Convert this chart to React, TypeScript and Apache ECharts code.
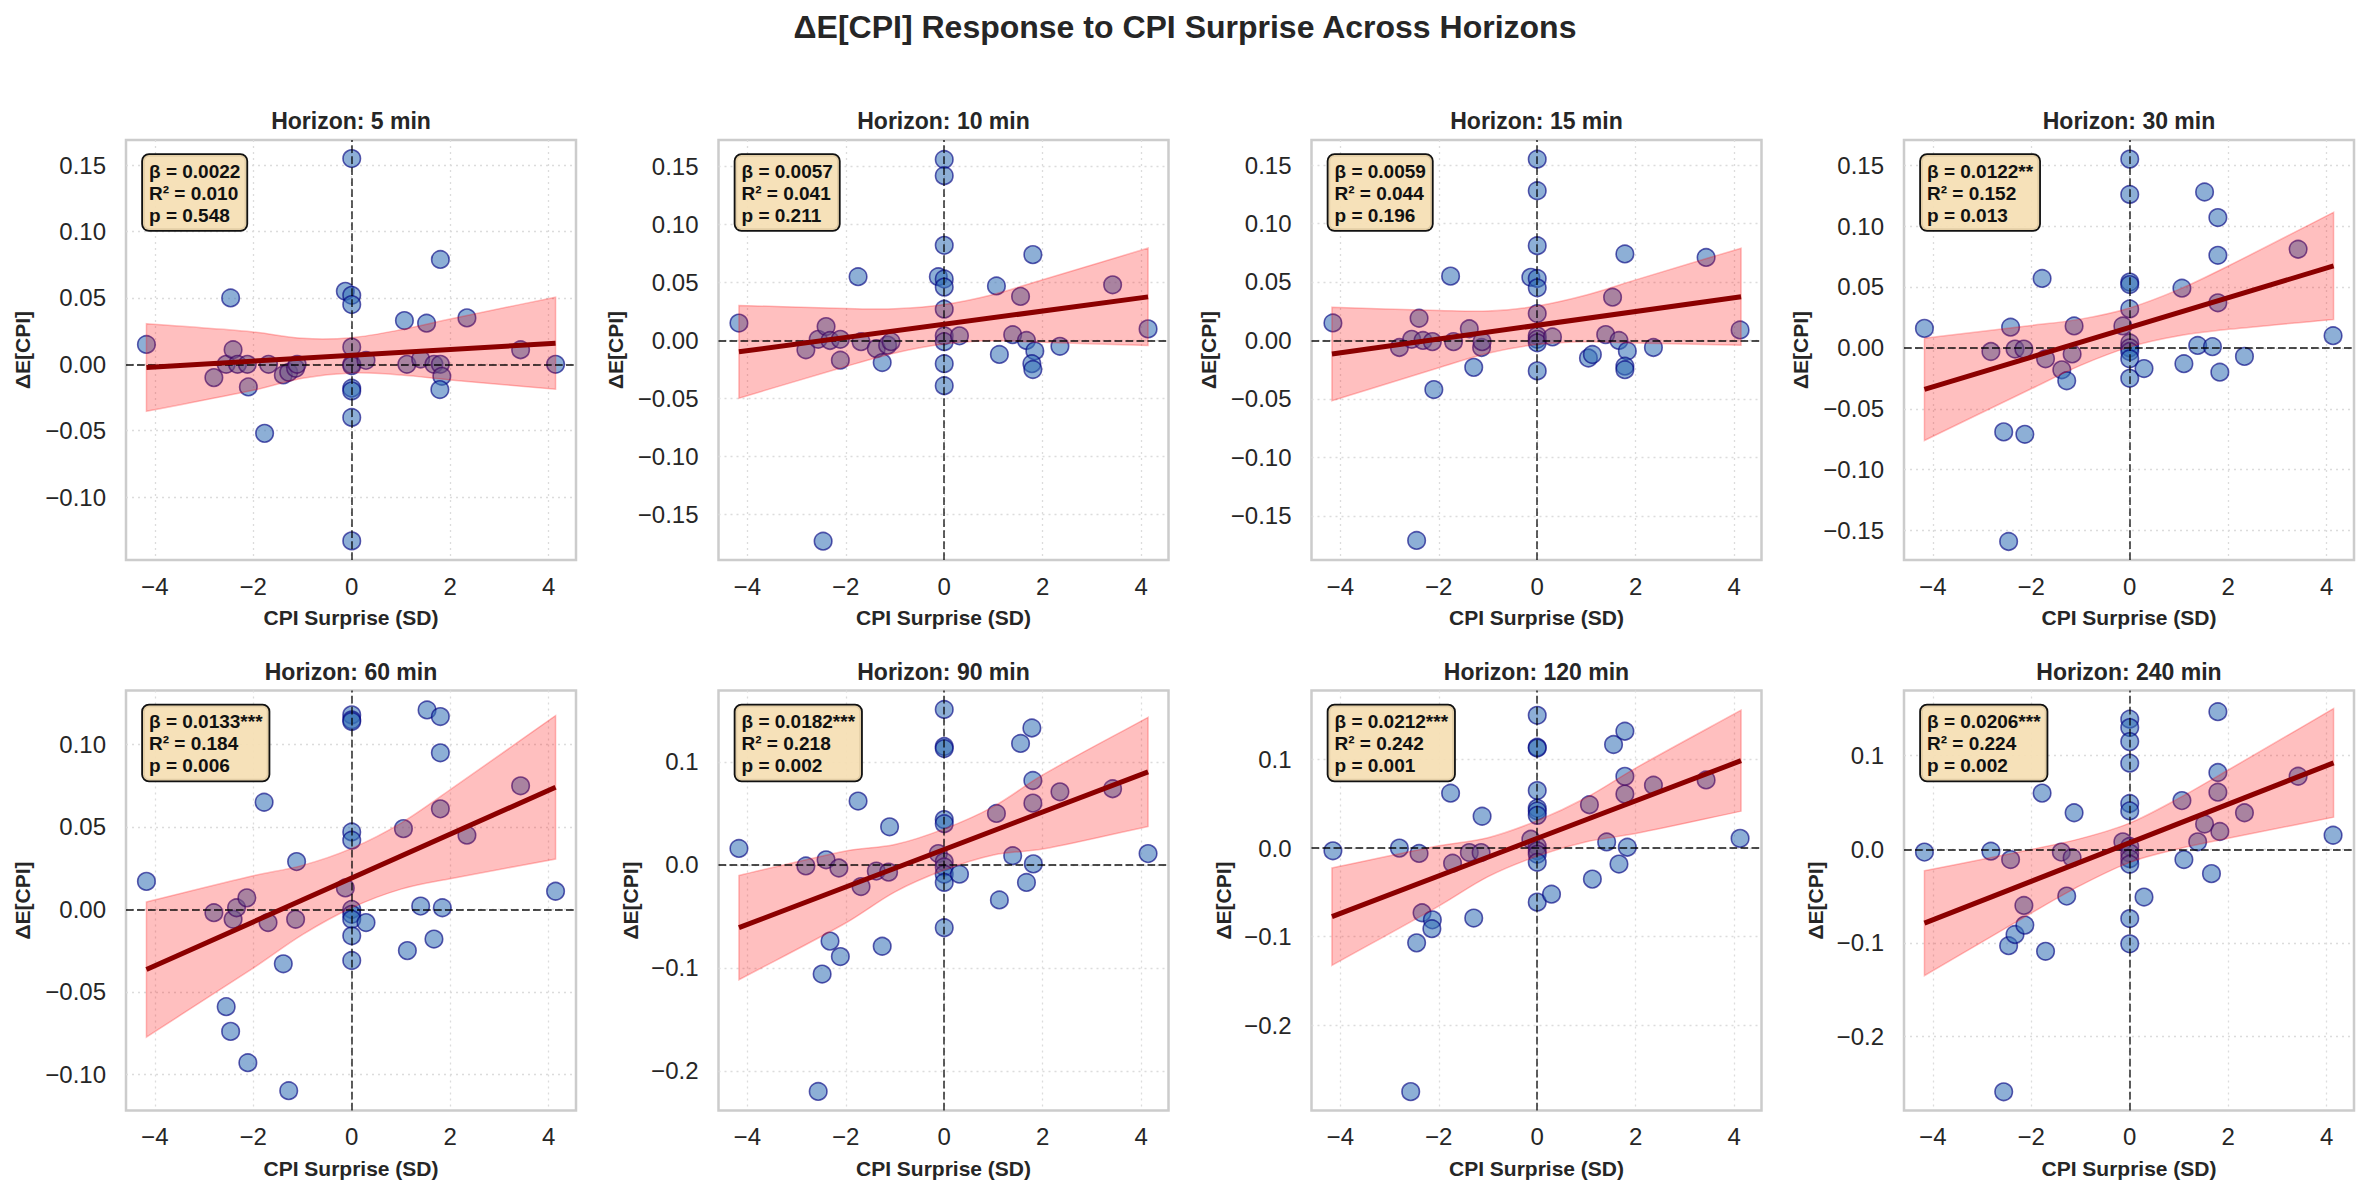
import React, { useEffect, useRef } from 'react';
import * as echarts from 'echarts';

const FONT = "'Liberation Sans', Arial, Helvetica, sans-serif";
const INK = '#262626';

const SUPTITLE = 'ΔE[CPI] Response to CPI Surprise Across Horizons';
const X_NAME = 'CPI Surprise (SD)';
const Y_NAME = 'ΔE[CPI]';

// Regression summary per horizon
const HORIZONS = [5, 10, 15, 30, 60, 90, 120, 240];
const BETA = [0.0022, 0.0057, 0.0059, 0.0122, 0.0133, 0.0182, 0.0212, 0.0206];
const SIG_STARS = ['', '', '', '**', '***', '***', '***', '***'];
const R_SQUARED = [0.01, 0.041, 0.044, 0.152, 0.184, 0.218, 0.242, 0.224];
const P_VALUES = [0.548, 0.211, 0.196, 0.013, 0.006, 0.002, 0.001, 0.002];
const INTERCEPT = [0.0068, 0.014, 0.013, 0.0168, 0.019, 0.015, 0.011, 0.007];

// Fitted line spans the observed surprise range
const FIT_X = [-4.17, 4.14];

// 95% confidence band half-widths, sampled along the surprise axis
const BAND_X = [-4.17, -2, -1, 0, 1, 2, 4.14];
const BAND_HALF_5 = [0.033, 0.022, 0.015, 0.0133, 0.017, 0.023, 0.0347];
const BAND_HALF_10 = [0.04, 0.025, 0.019, 0.017, 0.02, 0.027, 0.042];
const BAND_HALF_15 = [0.04, 0.0245, 0.018, 0.0165, 0.02, 0.027, 0.0415];
const BAND_HALF_30 = [0.042, 0.026, 0.019, 0.016, 0.019, 0.026, 0.044];
const BAND_HALF_60 = [0.041, 0.028, 0.021, 0.018, 0.02, 0.027, 0.0435];
const BAND_HALF_90 = [0.0506, 0.035, 0.023, 0.02, 0.0235, 0.036, 0.053];
const BAND_HALF_120 = [0.055, 0.034, 0.022, 0.02, 0.025, 0.037, 0.057];
const BAND_HALF_240 = [0.056, 0.034, 0.025, 0.021, 0.027, 0.0365, 0.058];

// Event-level observations: [CPI surprise (SD), ΔE[CPI]]
const PTS_5 = [
  [-4.17, 0.015], [-2.8, -0.01], [-2.55, 0.0], [-2.46, 0.05], [-2.41, 0.011], [-2.32, 0.0],
  [-2.12, 0.0], [-2.1, -0.017], [-1.77, -0.052], [-1.69, 0.0], [-1.39, -0.008], [-1.28, -0.006],
  [-1.14, -0.003], [-1.11, 0.0], [-0.13, 0.055], [0, 0.155], [0, 0.052], [0, 0.045], [0, 0.013],
  [0, 0.0], [0, -0.001], [0, -0.018], [0, -0.02], [0, -0.04], [0, -0.133], [0.29, 0.003],
  [1.07, 0.033], [1.12, 0.0], [1.4, 0.004], [1.52, 0.031], [1.67, 0.0], [1.8, 0.079], [1.8, 0.0],
  [1.83, -0.009], [1.79, -0.019], [2.34, 0.035], [3.43, 0.011], [4.14, 0.0],
];
const PTS_10 = [
  [-4.17, 0.015], [-2.81, -0.008], [-2.56, 0.001], [-2.46, -0.173], [-2.4, 0.012], [-2.32, 0.0],
  [-2.11, 0.001], [-2.11, -0.017], [-1.75, 0.055], [-1.69, -0.001], [-1.38, -0.007], [-1.26, -0.019],
  [-1.15, -0.004], [-1.08, -0.001], [-0.12, 0.055], [0, 0.156], [0, 0.142], [0, 0.082], [0, 0.053],
  [0, 0.046], [0, 0.027], [0, 0.004], [0, -0.001], [0, -0.02], [0, -0.039], [0.31, 0.004],
  [1.06, 0.047], [1.12, -0.012], [1.39, 0.005], [1.55, 0.038], [1.67, 0.0], [1.8, 0.074],
  [1.84, -0.009], [1.78, -0.02], [1.8, -0.025], [2.35, -0.005], [3.42, 0.048], [4.14, 0.01],
];
const PTS_15 = [
  [-4.15, 0.015], [-2.8, -0.006], [-2.55, 0.001], [-2.45, -0.171], [-2.4, 0.019], [-2.32, 0.0],
  [-2.13, -0.001], [-2.1, -0.042], [-1.76, 0.055], [-1.7, -0.001], [-1.38, 0.01], [-1.29, -0.023],
  [-1.13, -0.006], [-1.12, -0.001], [-0.13, 0.054], [0, 0.155], [0, 0.128], [0, 0.081], [0, 0.053],
  [0, 0.045], [0, 0.023], [0, 0.004], [0, 0.001], [0, -0.002], [0, -0.026], [0.31, 0.003],
  [1.04, -0.015], [1.12, -0.012], [1.39, 0.005], [1.53, 0.037], [1.66, 0.0], [1.78, 0.074],
  [1.83, -0.009], [1.78, -0.022], [1.78, -0.025], [2.36, -0.006], [3.43, 0.071], [4.12, 0.009],
];
const PTS_30 = [
  [-4.17, 0.016], [-2.82, -0.003], [-2.56, -0.069], [-2.46, -0.159], [-2.42, 0.017], [-2.33, -0.001],
  [-2.15, -0.001], [-2.13, -0.071], [-1.78, 0.057], [-1.71, -0.009], [-1.38, -0.018], [-1.28, -0.027],
  [-1.17, -0.005], [-1.13, 0.018], [-0.14, 0.018], [0, 0.155], [0, 0.126], [0, 0.054], [0, 0.052],
  [0, 0.032], [0, 0.004], [0, 0.0], [0, -0.003], [0, -0.009], [0, -0.025], [0.29, -0.017],
  [1.06, 0.049], [1.1, -0.013], [1.38, 0.002], [1.52, 0.128], [1.68, 0.001], [1.79, 0.107],
  [1.79, 0.076], [1.79, 0.037], [1.83, -0.02], [2.33, -0.007], [3.42, 0.081], [4.13, 0.01],
];
const PTS_60 = [
  [-4.17, 0.017], [-2.8, -0.002], [-2.55, -0.059], [-2.46, -0.074], [-2.41, -0.006], [-2.34, 0.001],
  [-2.13, 0.007], [-2.11, -0.093], [-1.78, 0.065], [-1.7, -0.008], [-1.39, -0.033], [-1.28, -0.11],
  [-1.14, -0.006], [-1.12, 0.029], [-0.13, 0.013], [0, 0.118], [0, 0.115], [0, 0.114], [0, 0.047],
  [0, 0.042], [0, 0.0], [0, -0.003], [0, -0.006], [0, -0.016], [0, -0.031], [0.29, -0.008],
  [1.05, 0.049], [1.13, -0.025], [1.4, 0.002], [1.53, 0.121], [1.67, -0.018], [1.8, 0.117],
  [1.8, 0.095], [1.8, 0.061], [1.84, 0.001], [2.34, 0.045], [3.43, 0.075], [4.14, 0.011],
];
const PTS_90 = [
  [-4.17, 0.016], [-2.81, -0.001], [-2.56, -0.22], [-2.48, -0.106], [-2.4, 0.005], [-2.32, -0.074],
  [-2.14, -0.003], [-2.11, -0.089], [-1.75, 0.062], [-1.69, -0.021], [-1.38, -0.006], [-1.26, -0.079],
  [-1.13, -0.007], [-1.11, 0.037], [-0.12, 0.011], [0, 0.151], [0, 0.115], [0, 0.113], [0, 0.044],
  [0, 0.04], [0, 0.003], [0, -0.002], [0, -0.009], [0, -0.017], [0, -0.061], [0.31, -0.009],
  [1.06, 0.05], [1.12, -0.034], [1.39, 0.009], [1.55, 0.118], [1.67, -0.017], [1.78, 0.133],
  [1.8, 0.082], [1.8, 0.06], [1.81, 0.001], [2.35, 0.071], [3.42, 0.074], [4.14, 0.011],
];
const PTS_120 = [
  [-4.15, -0.003], [-2.8, 0.0], [-2.57, -0.275], [-2.45, -0.107], [-2.4, -0.006], [-2.34, -0.073],
  [-2.13, -0.081], [-2.14, -0.091], [-1.76, 0.062], [-1.72, -0.017], [-1.38, -0.005], [-1.29, -0.079],
  [-1.14, -0.005], [-1.12, 0.036], [-0.13, 0.01], [0, 0.15], [0, 0.114], [0, 0.113], [0, 0.065],
  [0, 0.045], [0, 0.042], [0, 0.037], [0, 0.002], [0, -0.003], [0, -0.007], [0, -0.016], [0, -0.061],
  [0.29, -0.052], [1.06, 0.049], [1.12, -0.035], [1.41, 0.007], [1.55, 0.117], [1.66, -0.018],
  [1.78, 0.132], [1.78, 0.081], [1.78, 0.061], [1.83, 0.001], [2.36, 0.071], [3.43, 0.077], [4.12, 0.011],
];
const PTS_240 = [
  [-4.17, -0.003], [-2.82, -0.002], [-2.56, -0.259], [-2.46, -0.103], [-2.42, -0.011], [-2.33, -0.091],
  [-2.15, -0.06], [-2.13, -0.081], [-1.78, 0.06], [-1.71, -0.109], [-1.39, -0.003], [-1.28, -0.05],
  [-1.17, -0.009], [-1.13, 0.039], [-0.14, 0.008], [0, 0.139], [0, 0.13], [0, 0.115], [0, 0.092],
  [0, 0.049], [0, 0.041], [0, 0.003], [0, -0.004], [0, -0.01], [0, -0.016], [0, -0.074], [0, -0.101],
  [0.29, -0.051], [1.06, 0.052], [1.1, -0.011], [1.38, 0.008], [1.52, 0.027], [1.66, -0.026],
  [1.79, 0.147], [1.79, 0.082], [1.79, 0.061], [1.83, 0.019], [2.33, 0.039], [3.42, 0.078], [4.13, 0.015],
];

// Axis ranges and tick labels
const X_LIMITS = [-4.585, 4.555];
const X_TICKS = [-4, -2, 0, 2, 4];
const Y_LIMITS = [
  [-0.1474, 0.169], [-0.1892, 0.1728], [-0.1877, 0.1714], [-0.1742, 0.1707],
  [-0.122, 0.1328], [-0.2385, 0.1694], [-0.2963, 0.178], [-0.279, 0.1696],
];
const Y_TICKS_A = [-0.1, -0.05, 0, 0.05, 0.1, 0.15];
const Y_TICKS_B = [-0.15, -0.1, -0.05, 0, 0.05, 0.1, 0.15];
const Y_TICKS_C = [-0.1, -0.05, 0, 0.05, 0.1];
const Y_TICKS_D = [-0.2, -0.1, 0, 0.1];
const Y_DECIMALS = [2, 2, 2, 2, 2, 1, 1, 1];

const POINTS = [PTS_5, PTS_10, PTS_15, PTS_30, PTS_60, PTS_90, PTS_120, PTS_240];
const BAND_HALF = [
  BAND_HALF_5, BAND_HALF_10, BAND_HALF_15, BAND_HALF_30,
  BAND_HALF_60, BAND_HALF_90, BAND_HALF_120, BAND_HALF_240,
];
const Y_TICKS = [Y_TICKS_A, Y_TICKS_B, Y_TICKS_B, Y_TICKS_B, Y_TICKS_C, Y_TICKS_D, Y_TICKS_D, Y_TICKS_D];

// Panel layout (pixels)
const WIDTH = 2370;
const HEIGHT = 1193;
const GRID_LEFT = [126, 718.5, 1311.5, 1904];
const GRID_TOP = [140, 690.5];
const GRID_W = 450;
const GRID_H = 420;

const MINUS = '\u2212';
const fmtX = (v: number) => (v < 0 ? MINUS + Math.abs(v) : String(v));
const fmtY = (d: number) => (v: number) =>
  (v < -1e-9 ? MINUS : '') + Math.abs(v).toFixed(d);

// Cubic curve through pixel points (x-monotone tangents), continuing an open path.
function curveThrough(pts: number[][]): string {
  const n = pts.length;
  const slope = (k: number) => {
    const a = pts[Math.max(k - 1, 0)];
    const b = pts[Math.min(k + 1, n - 1)];
    return (b[1] - a[1]) / (b[0] - a[0]);
  };
  let d = '';
  for (let k = 0; k < n - 1; k++) {
    const p = pts[k];
    const q = pts[k + 1];
    const dx = (q[0] - p[0]) / 3;
    const c1 = [p[0] + dx, p[1] + slope(k) * dx];
    const c2 = [q[0] - dx, q[1] - slope(k + 1) * dx];
    d += ` C${c1[0].toFixed(2)},${c1[1].toFixed(2)} ${c2[0].toFixed(2)},${c2[1].toFixed(2)} ${q[0].toFixed(2)},${q[1].toFixed(2)}`;
  }
  return d;
}

function buildOption() {
  const grid: any[] = [];
  const xAxis: any[] = [];
  const yAxis: any[] = [];
  const series: any[] = [];
  const graphic: any[] = [];

  graphic.push({
    type: 'text',
    x: WIDTH / 2,
    y: 27,
    style: {
      text: SUPTITLE,
      font: `bold 32px ${FONT}`,
      fill: INK,
      align: 'center',
      verticalAlign: 'middle',
      textAlign: 'center',
      textVerticalAlign: 'middle',
    },
  });

  HORIZONS.forEach((h, i) => {
    const row = Math.floor(i / 4);
    const col = i % 4;
    const left = GRID_LEFT[col];
    const top = GRID_TOP[row];
    const a = INTERCEPT[i];
    const b = BETA[i];
    const half = BAND_HALF[i];

    grid.push({
      left,
      top,
      width: GRID_W,
      height: GRID_H,
      show: true,
      borderColor: '#cccccc',
      borderWidth: 2.5,
      backgroundColor: 'transparent',
      containLabel: false,
      outerBoundsMode: 'none',
    });

    const splitLine = {
      show: true,
      lineStyle: { color: '#dcdcdc', width: 1.3, type: [2, 4] },
    };

    xAxis.push({
      type: 'value',
      gridIndex: i,
      min: X_LIMITS[0],
      max: X_LIMITS[1],
      axisLine: { show: false },
      axisTick: { show: false, customValues: X_TICKS },
      axisLabel: {
        customValues: X_TICKS,
        formatter: fmtX,
        color: INK,
        fontSize: 24,
        fontFamily: FONT,
        margin: 14,
      },
      splitLine,
      name: X_NAME,
      nameLocation: 'middle',
      nameGap: 47,
      nameMoveOverlap: false,
      nameTextStyle: { fontFamily: FONT, fontSize: 21, fontWeight: 'bold', color: INK },
    });

    yAxis.push({
      type: 'value',
      gridIndex: i,
      min: Y_LIMITS[i][0],
      max: Y_LIMITS[i][1],
      axisLine: { show: false },
      axisTick: { show: false, customValues: Y_TICKS[i] },
      axisLabel: {
        customValues: Y_TICKS[i],
        formatter: fmtY(Y_DECIMALS[i]),
        color: INK,
        fontSize: 24,
        fontFamily: FONT,
        margin: 20,
      },
      splitLine,
      name: Y_NAME,
      nameLocation: 'middle',
      nameGap: Y_DECIMALS[i] === 2 ? 93 : 78,
      nameMoveOverlap: false,
      nameTextStyle: { fontFamily: FONT, fontSize: 21, fontWeight: 'bold', color: INK },
    });

    // observations
    series.push({
      type: 'scatter',
      xAxisIndex: i,
      yAxisIndex: i,
      data: POINTS[i],
      symbolSize: 17.5,
      silent: true,
      z: 2,
      itemStyle: {
        color: 'rgba(52,112,182,0.7)',
        borderColor: 'rgba(0,0,128,0.8)',
        borderWidth: 1.6,
      },
    });

    // confidence band around the fit: [x, lower, upper]
    const bandRows = BAND_X.map((x, k) => [x, a + b * x - half[k], a + b * x + half[k]]);
    series.push({
      type: 'custom',
      xAxisIndex: i,
      yAxisIndex: i,
      data: bandRows,
      encode: { x: 0, y: [1, 2] },
      silent: true,
      z: 3,
      renderItem: (params: any, api: any) => {
        if (params.dataIndex !== 0) return null;
        const upper = bandRows.map((r) => api.coord([r[0], r[2]]));
        const lower = bandRows.map((r) => api.coord([r[0], r[1]])).reverse();
        const pathData =
          `M${upper[0][0].toFixed(2)},${upper[0][1].toFixed(2)}` +
          curveThrough(upper) +
          ` L${lower[0][0].toFixed(2)},${lower[0][1].toFixed(2)}` +
          curveThrough(lower) +
          ' Z';
        return {
          type: 'path',
          shape: { pathData },
          style: {
            fill: 'rgba(255,0,0,0.25)',
            stroke: 'rgba(255,0,0,0.25)',
            lineWidth: 1.5,
          },
        };
      },
    });

    // fitted regression line with zero reference lines
    series.push({
      type: 'line',
      xAxisIndex: i,
      yAxisIndex: i,
      data: FIT_X.map((x) => [x, a + b * x]),
      symbol: 'none',
      showSymbol: false,
      silent: true,
      z: 5,
      lineStyle: { color: '#8B0000', width: 5 },
      markLine: {
        silent: true,
        symbol: ['none', 'none'],
        label: { show: false },
        lineStyle: { color: 'rgba(0,0,0,0.7)', width: 1.8, type: [7.7, 3.3] },
        data: [{ xAxis: 0 }, { yAxis: 0 }],
        animation: false,
      },
    });

    // panel title
    graphic.push({
      type: 'text',
      x: left + GRID_W / 2,
      y: top - 19,
      style: {
        text: `Horizon: ${h} min`,
        font: `bold 23px ${FONT}`,
        fill: INK,
        align: 'center',
        verticalAlign: 'middle',
        textAlign: 'center',
        textVerticalAlign: 'middle',
      },
    });

    // statistics box
    graphic.push({
      type: 'text',
      x: left + 17,
      y: top + 15,
      z: 100,
      style: {
        text:
          `β = ${b.toFixed(4)}${SIG_STARS[i]}\n` +
          `R² = ${R_SQUARED[i].toFixed(3)}\n` +
          `p = ${P_VALUES[i].toFixed(3)}`,
        font: `bold 19px ${FONT}`,
        fill: '#111111',
        lineHeight: 22,
        align: 'left',
        verticalAlign: 'top',
        textAlign: 'left',
        textVerticalAlign: 'top',
        backgroundColor: 'rgba(245,222,179,0.92)',
        borderColor: '#111111',
        borderWidth: 1.8,
        borderRadius: 6,
        padding: [5, 6, 4, 6],
      },
    });
  });

  return {
    animation: false,
    backgroundColor: '#ffffff',
    textStyle: { fontFamily: FONT },
    grid,
    xAxis,
    yAxis,
    series,
    graphic,
  };
}

export default function App() {
  const ref = useRef<HTMLDivElement>(null);

  useEffect(() => {
    if (!ref.current) return;
    const chart = echarts.init(ref.current, undefined, { renderer: 'svg' });
    chart.setOption(buildOption() as any);
    return () => chart.dispose();
  }, []);

  return (
    <div
      ref={ref}
      style={{ position: 'absolute', left: 0, top: 0, width: WIDTH, height: HEIGHT, background: '#fff' }}
    />
  );
}
